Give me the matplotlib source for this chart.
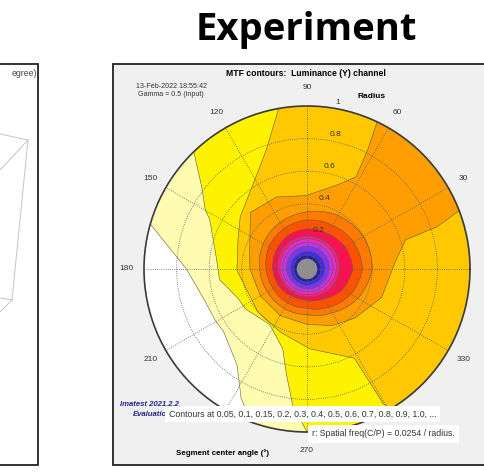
import matplotlib
matplotlib.use('Agg')
import matplotlib.pyplot as plt
import numpy as np
from matplotlib.patches import Rectangle, PathPatch
from matplotlib.path import Path

plt.rcParams['font.family'] = ['Liberation Sans', 'DejaVu Sans']

W, H = 485, 476

# MTF contour levels and the colour of the band above each level
levels = [0.05, 0.1, 0.15, 0.2, 0.3, 0.4, 0.5, 0.6, 0.7, 0.8, 0.9, 1.0, 1.1]
band_colors = ['#FFFBB0', '#FFF200', '#FFC800', '#FF9E00', '#FF7A00', '#FF5200',
               '#FF1050', '#FF1C8E', '#EE2ACB', '#BE34EC', '#7F34F4', '#3F2AEE', '#25209E']

# contour boundaries: segment angle (deg) -> radius
# (radius > 1 means the contour lies outside the plotted circle)
c005_ang = [0, 30, 60, 90, 120, 150, 164, 180, 196, 210, 217, 234, 243, 250, 260, 290, 320]
c005_r = [1.25, 1.25, 1.25, 1.25, 1.25, 1.25, 1.0, 0.74, 0.66, 0.645, 0.64, 0.73, 0.89, 1.0, 1.25, 1.25, 1.25]

c010_ang = [0, 30, 60, 90, 120, 134, 142, 150, 153, 170, 187, 203, 213, 236, 253, 259, 264, 270, 280, 310, 340]
c010_r = [1.25, 1.25, 1.25, 1.25, 1.25, 1.0, 0.82, 0.72, 0.67, 0.57, 0.54, 0.46, 0.45, 0.41, 0.51, 0.66, 0.84, 1.0, 1.25, 1.25, 1.25]

c015_ang = [0, 30, 60, 90, 100, 109, 122, 142, 157, 181, 221, 247, 272, 298, 299.5, 301, 310, 340]
c015_r = [1.25, 1.25, 1.25, 1.2, 1.0, 0.77, 0.62, 0.52, 0.46, 0.43, 0.40, 0.42, 0.49, 0.62, 0.95, 1.0, 1.25, 1.25]

c020_ang = [4, 16.5, 18, 21, 30, 45, 55, 64.5, 63, 62, 70, 91, 113, 135, 162, 180, 210, 240, 270, 294, 314, 339]
c020_r = [0.54, 0.63, 0.84, 1.0, 1.25, 1.25, 1.25, 1.0, 0.82, 0.64, 0.55, 0.45, 0.48, 0.49, 0.37, 0.35, 0.33, 0.33, 0.34, 0.38, 0.42, 0.49]

# inner, nearly round contours at every 30 degrees
ring_ang = [0, 30, 60, 90, 120, 150, 180, 210, 240, 270, 300, 330]
c03_r = [0.40, 0.40, 0.38, 0.35, 0.33, 0.31, 0.29, 0.28, 0.28, 0.28, 0.31, 0.36]
c04_r = [0.34, 0.33, 0.31, 0.30, 0.285, 0.27, 0.25, 0.24, 0.24, 0.24, 0.27, 0.31]
c05_r = [0.28, 0.27, 0.25, 0.245, 0.235, 0.22, 0.21, 0.20, 0.19, 0.19, 0.21, 0.25]
c06_r = [0.20, 0.205, 0.205, 0.205, 0.20, 0.19, 0.18, 0.17, 0.17, 0.17, 0.18, 0.19]
c07_r = [0.18, 0.185, 0.185, 0.185, 0.18, 0.17, 0.165, 0.16, 0.155, 0.155, 0.16, 0.17]
c08_r = [0.16, 0.165, 0.165, 0.165, 0.16, 0.155, 0.15, 0.145, 0.14, 0.14, 0.145, 0.15]
c09_r = [0.135, 0.14, 0.14, 0.14, 0.135, 0.13, 0.125, 0.12, 0.12, 0.12, 0.125, 0.13]
c10_r = [0.11, 0.11, 0.11, 0.11, 0.105, 0.105, 0.10, 0.10, 0.10, 0.10, 0.10, 0.105]
c11_r = [0.085, 0.085, 0.085, 0.085, 0.085, 0.085, 0.08, 0.08, 0.08, 0.08, 0.08, 0.085]
hole_r = 0.063

theta_ticks = [0, 30, 60, 90, 120, 150, 180, 210, 240, 270, 300, 330]
theta_labels = ['', '30', '60', '90', '120', '150', '180', '210', '', '270', '', '330']
rad_ticks = [0.2, 0.4, 0.6, 0.8, 1.0]
rad_labels = ['0.2', '0.4', '0.6', '0.8', '1']

# cropped neighbour chart on the left (pixel coords)
wire_x = [[0, 28], [28, 0], [28, 12], [12, 0], [12, 0]]
wire_y = [[134, 140], [140, 170], [140, 300], [300, 298], [300, 312]]

outer = [(c005_ang, c005_r), (c010_ang, c010_r), (c015_ang, c015_r), (c020_ang, c020_r)]
inner = [c03_r, c04_r, c05_r, c06_r, c07_r, c08_r, c09_r, c10_r, c11_r]

fig = plt.figure(figsize=(W / 100, H / 100), dpi=100)

# background layer in pixel coordinates
bg = fig.add_axes([0, 0, 1, 1], zorder=-1)
bg.set_xlim(0, W)
bg.set_ylim(H, 0)
bg.axis('off')
bg.add_patch(Rectangle((113, 64), 380, 401, facecolor='#F0F0F0', edgecolor='#222222', linewidth=1.3))
bg.add_patch(Rectangle((-5, 64), 43.5, 401, facecolor='white', edgecolor='#222222', linewidth=1.3))
for xs, ys in zip(wire_x, wire_y):
    bg.plot(xs, ys, color='#c4c4c4', linewidth=0.7)
bg.text(37, 73, 'egree)', ha='right', va='center', fontsize=6.3, color='#444444')

# polar MTF contour plot
cx, cy, R = 307, 269, 163
ax = fig.add_axes([(cx - R) / W, 1 - (cy + R) / H, 2 * R / W, 2 * R / H], projection='polar')
ax.set_facecolor('white')
edge = dict(edgecolor='#5d5b45', linewidth=0.4, zorder=1)
for (ang, rad), col in zip(outer, band_colors[:4]):
    ax.fill(np.deg2rad(ang), rad, facecolor=col, **edge)
for rad, col in zip(inner, band_colors[4:]):
    verts = np.column_stack([np.deg2rad(ring_ang + [360]), rad + [rad[0]]])
    ax.add_patch(PathPatch(Path(verts, _interpolation_steps=20), facecolor=col, **edge))
ax.bar(0, hole_r, width=2 * np.pi, bottom=0, color='#8f8f8f', linewidth=0, zorder=4)

ax.set_ylim(0, 1)
ax.set_thetagrids(theta_ticks, theta_labels, fontsize=6, color='#333333')
ax.set_rgrids(rad_ticks[:-1], labels=[''] * 4)
ax.tick_params(axis='x', pad=2.5)
ax.grid(True, color='#5e5e5e', linestyle=(0, (1, 1.6)), linewidth=0.6)
ax.spines['polar'].set_color('#3a3a3a')
ax.spines['polar'].set_linewidth(1.2)
for r, lab in zip(rad_ticks, rad_labels):
    ax.annotate(lab, xy=(np.deg2rad(80), r), xytext=(0, 2), textcoords='offset points',
                ha='left', va='bottom', fontsize=6, color='#333333', zorder=5)

# titles and annotations
fig.text(306 / W, 1 - 40 / H, 'Experiment', ha='center', va='baseline',
         fontsize=27.5, fontweight='bold', family='Open Sans')
fig.text(306 / W, 1 - 73 / H, 'MTF contours:  Luminance (Y) channel', ha='center', va='center',
         fontsize=6.2, fontweight='bold')
fig.text(171 / W, 1 - 86 / H, '13-Feb-2022 18:55:42', ha='center', va='center',
         fontsize=5.1, color='#333333')
fig.text(171 / W, 1 - 95 / H, 'Gamma = 0.5 (input)', ha='center', va='center',
         fontsize=5.1, color='#333333')
fig.text(357 / W, 1 - 97 / H, 'Radius', ha='left', va='center', fontsize=6, fontweight='bold')
fig.text(120 / W, 1 - 404 / H, 'Imatest 2021.2.2', ha='left', va='center', fontsize=5.6,
         fontweight='bold', style='italic', color='#25258f')
fig.text(133 / W, 1 - 414 / H, 'Evaluation', ha='left', va='center', fontsize=5.6,
         fontweight='bold', style='italic', color='#25258f')
fig.text(169 / W, 1 - 414 / H,
         'Contours at 0.05, 0.1, 0.15, 0.2, 0.3, 0.4, 0.5, 0.6, 0.7, 0.8, 0.9, 1.0, ...',
         ha='left', va='center', fontsize=6.3, color='#333333', zorder=6,
         bbox=dict(facecolor='white', edgecolor='none', pad=2.5))
fig.text(455 / W, 1 - 434 / H, 'r: Spatial freq(C/P) = 0.0254 / radius.', ha='right', va='center',
         fontsize=6.3, color='#333333', zorder=6,
         bbox=dict(facecolor='white', edgecolor='none', pad=3.0))
fig.text(223 / W, 1 - 453 / H, 'Segment center angle (\u00b0)', ha='center', va='center',
         fontsize=5.7, fontweight='bold')

fig.savefig('out.png', dpi=100)
